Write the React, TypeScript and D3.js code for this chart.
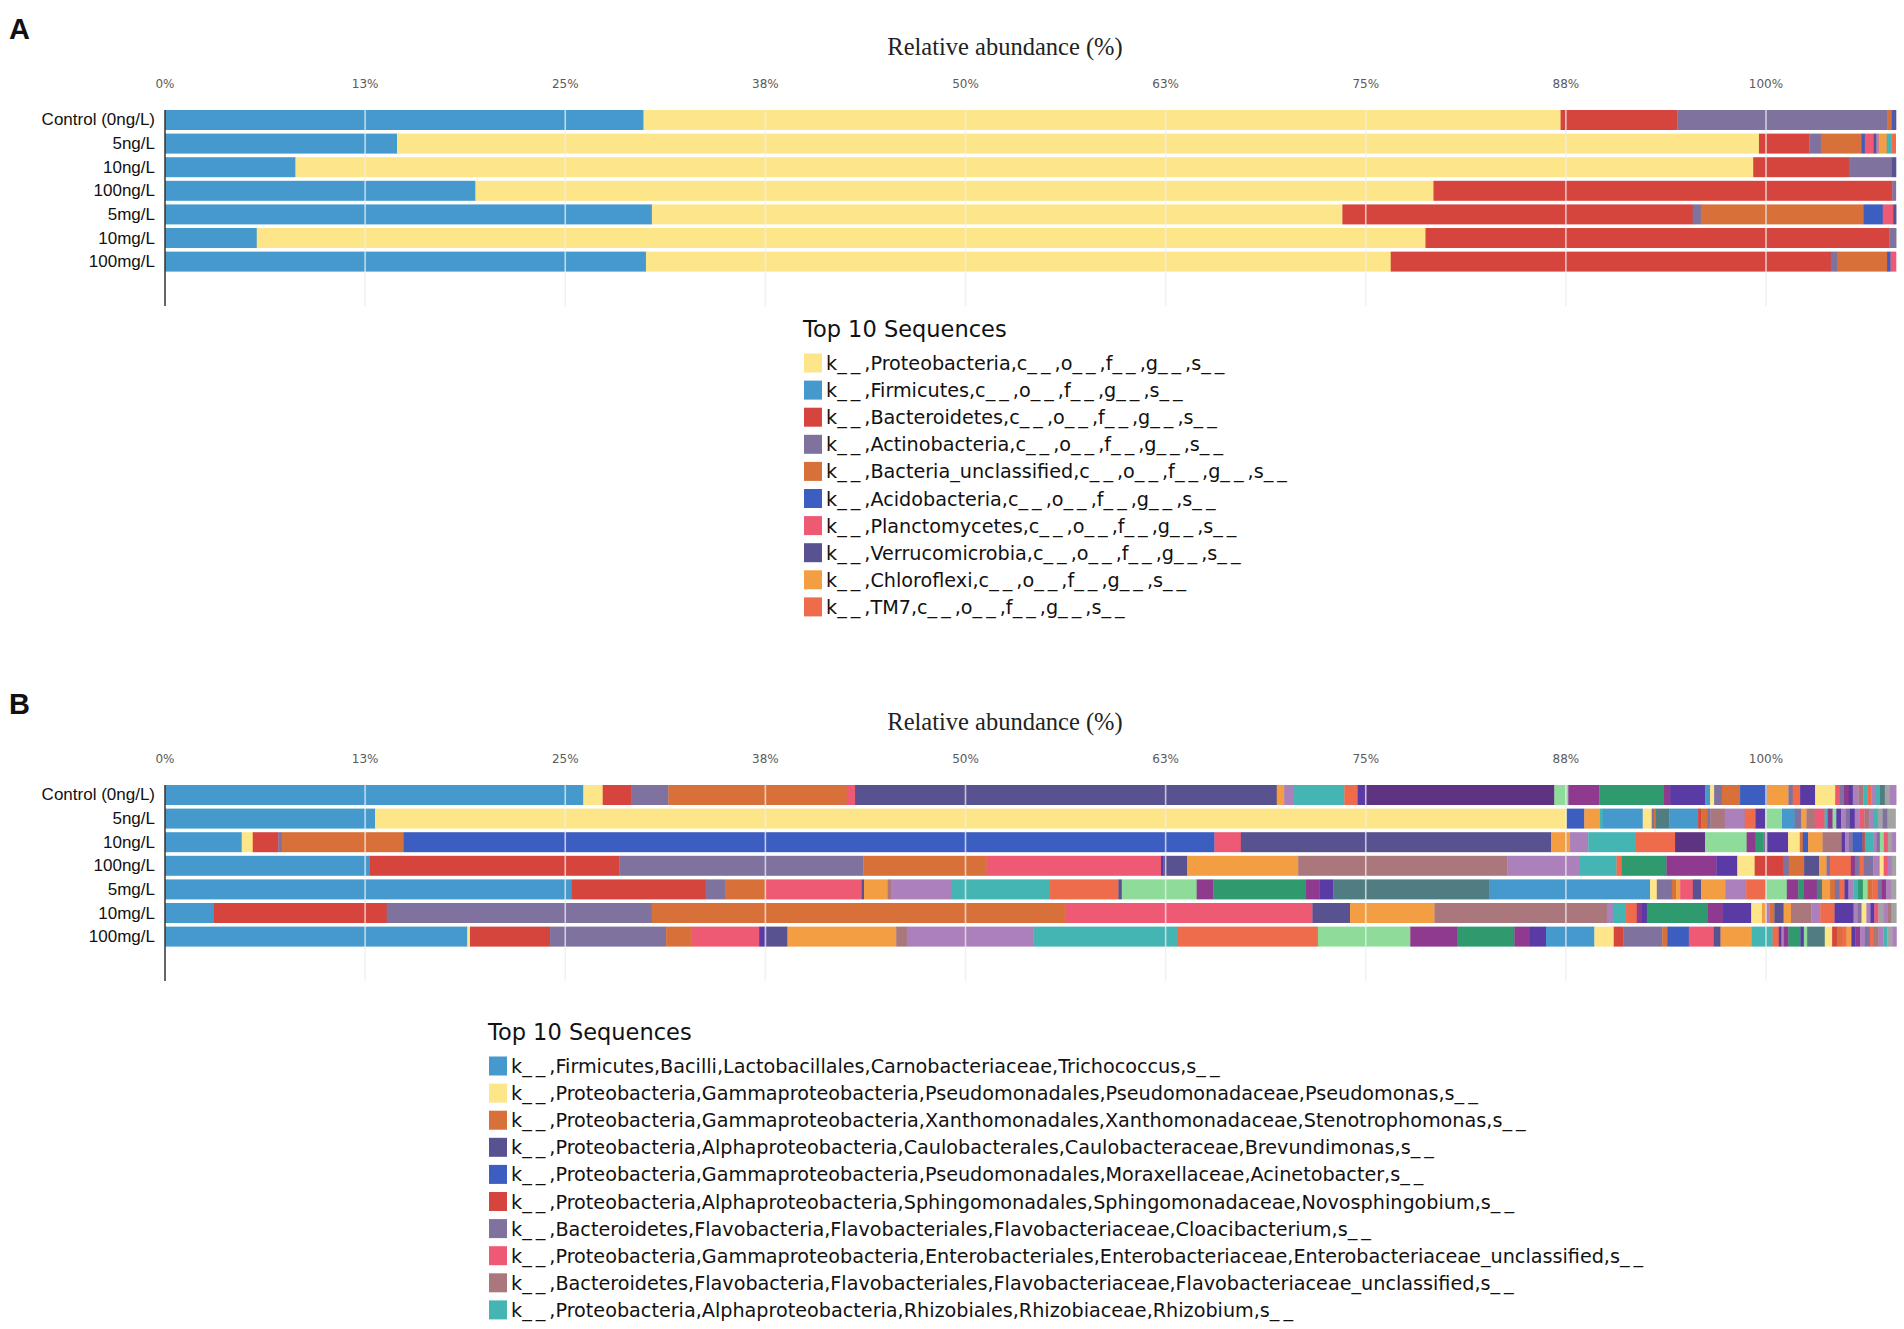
import React from "react";
import * as d3 from "d3";

// ---------- shared data ----------
const samples = ["Control (0ng/L)", "5ng/L", "10ng/L", "100ng/L", "5mg/L", "10mg/L", "100mg/L"];
const tickValues = [0, 12.5, 25, 37.5, 50, 62.5, 75, 87.5, 100];
const axisTitle = "Relative abundance (%)";
const legendTitle = "Top 10 Sequences";

// ---------- panel A (phylum) ----------
const legendKeysA = ["Prot", "Firm", "Bact", "Acti", "Bunc", "Acid", "Plan", "Verr", "Chlo", "TM7"];
const legendLabelsA = [
  "k__,Proteobacteria,c__,o__,f__,g__,s__",
  "k__,Firmicutes,c__,o__,f__,g__,s__",
  "k__,Bacteroidetes,c__,o__,f__,g__,s__",
  "k__,Actinobacteria,c__,o__,f__,g__,s__",
  "k__,Bacteria_unclassified,c__,o__,f__,g__,s__",
  "k__,Acidobacteria,c__,o__,f__,g__,s__",
  "k__,Planctomycetes,c__,o__,f__,g__,s__",
  "k__,Verrucomicrobia,c__,o__,f__,g__,s__",
  "k__,Chloroflexi,c__,o__,f__,g__,s__",
  "k__,TM7,c__,o__,f__,g__,s__",
];
const a_Control: [string, number][] = [["Firm", 29.89], ["Prot", 57.28], ["Bact", 7.29], ["Acti", 13.1], ["Bunc", 0.28], ["Acid", 0.16], ["Verr", 0.12]];
const a_5ng: [string, number][] = [["Firm", 14.49], ["Prot", 85.07], ["Bact", 3.15], ["Acti", 0.72], ["Bunc", 2.52], ["Acid", 0.22], ["Plan", 0.54], ["Verr", 0.19], ["a12", 0.14], ["Chlo", 0.5], ["a11", 0.28], ["TM7", 0.28]];
const a_10ng: [string, number][] = [["Firm", 8.15], ["Prot", 91.05], ["Bact", 5.98], ["Acti", 2.66], ["Verr", 0.28]];
const a_100ng: [string, number][] = [["Firm", 19.39], ["Prot", 59.84], ["Bact", 28.66], ["Acti", 0.22]];
const a_5mg: [string, number][] = [["Firm", 30.41], ["Prot", 43.13], ["Bact", 21.88], ["Acti", 0.51], ["Bunc", 10.15], ["Acid", 1.21], ["Plan", 0.65], ["Verr", 0.19]];
const a_10mg: [string, number][] = [["Firm", 5.73], ["Prot", 73.0], ["Bact", 28.98], ["Acti", 0.42]];
const a_100mg: [string, number][] = [["Firm", 30.04], ["Prot", 46.52], ["Bact", 27.49], ["Acti", 0.42], ["Bunc", 3.09], ["Acid", 0.22], ["Plan", 0.34]];
const rowsA = [a_Control, a_5ng, a_10ng, a_100ng, a_5mg, a_10mg, a_100mg];

// ---------- panel B (genus) ----------
const legendKeysB = ["Tri", "Pse", "Ste", "Bre", "Aci", "Nov", "Clo", "Ent", "Fla", "Rhi"];
const legendLabelsB = [
  "k__,Firmicutes,Bacilli,Lactobacillales,Carnobacteriaceae,Trichococcus,s__",
  "k__,Proteobacteria,Gammaproteobacteria,Pseudomonadales,Pseudomonadaceae,Pseudomonas,s__",
  "k__,Proteobacteria,Gammaproteobacteria,Xanthomonadales,Xanthomonadaceae,Stenotrophomonas,s__",
  "k__,Proteobacteria,Alphaproteobacteria,Caulobacterales,Caulobacteraceae,Brevundimonas,s__",
  "k__,Proteobacteria,Gammaproteobacteria,Pseudomonadales,Moraxellaceae,Acinetobacter,s__",
  "k__,Proteobacteria,Alphaproteobacteria,Sphingomonadales,Sphingomonadaceae,Novosphingobium,s__",
  "k__,Bacteroidetes,Flavobacteria,Flavobacteriales,Flavobacteriaceae,Cloacibacterium,s__",
  "k__,Proteobacteria,Gammaproteobacteria,Enterobacteriales,Enterobacteriaceae,Enterobacteriaceae_unclassified,s__",
  "k__,Bacteroidetes,Flavobacteria,Flavobacteriales,Flavobacteriaceae,Flavobacteriaceae_unclassified,s__",
  "k__,Proteobacteria,Alphaproteobacteria,Rhizobiales,Rhizobiaceae,Rhizobium,s__",
];
const b_Control: [string, number][] = [["Tri", 26.13], ["Pse", 1.21], ["Nov", 1.77], ["Clo", 2.33], ["Ste", 11.14], ["Ent", 0.52], ["Bre", 26.34], ["b11", 0.46], ["b13", 0.62], ["Rhi", 3.14], ["b12", 0.84], ["b17", 0.46], ["b18", 11.82], ["b14", 0.87], ["b15", 1.94], ["b16", 4.0], ["b15", 0.42], ["b17", 2.19], ["Tri", 0.31], ["Pse", 0.25], ["Clo", 0.48], ["Ste", 1.14], ["Aci", 1.67], ["b11", 1.35], ["Clo", 0.27], ["b12", 0.46], ["b17", 0.94], ["Pse", 1.25], ["Ent", 0.3], ["Clo", 0.25], ["b15", 0.3], ["b17", 0.25], ["b13", 0.35], ["Fla", 0.3], ["Rhi", 0.25], ["b12", 0.25], ["b13", 0.3], ["Rhi", 0.25], ["b19", 0.3], ["b20", 0.3], ["b13", 0.41]];
const b_5ng: [string, number][] = [["Tri", 13.12], ["Pse", 74.43], ["Aci", 1.1], ["b11", 0.98], ["Rhi", 0.17], ["Tri", 2.5], ["Pse", 0.56], ["Clo", 0.14], ["Ste", 0.12], ["b19", 0.83], ["Tri", 1.81], ["Nov", 0.21], ["Ste", 0.35], ["Clo", 0.21], ["Fla", 0.89], ["b13", 1.25], ["b12", 0.67], ["b17", 0.62], ["b14", 1.04], ["Tri", 0.79], ["Clo", 0.42], ["b11", 0.31], ["Fla", 0.52], ["Ent", 0.62], ["Rhi", 0.19], ["b15", 0.31], ["b14", 0.23], ["b17", 0.3], ["b13", 0.3], ["Clo", 0.25], ["b17", 0.3], ["b13", 0.3], ["Ent", 0.3], ["Fla", 0.3], ["b13", 0.3], ["Rhi", 0.25], ["b20", 0.3], ["Clo", 0.3], ["b20", 0.5]];
const b_10ng: [string, number][] = [["Tri", 4.79], ["Pse", 0.69], ["Nov", 1.6], ["Clo", 0.21], ["Ste", 7.6], ["Aci", 50.66], ["Ent", 1.65], ["Bre", 19.38], ["b11", 1.18], ["b13", 1.14], ["Rhi", 2.98], ["b12", 2.44], ["b18", 1.87], ["b14", 2.6], ["b15", 0.56], ["b16", 0.47], ["Clo", 0.27], ["b17", 1.29], ["Pse", 0.73], ["Ste", 0.19], ["Aci", 0.33], ["b11", 0.9], ["Fla", 1.19], ["b17", 0.21], ["b13", 0.25], ["Clo", 0.23], ["Aci", 0.62], ["Nov", 0.14], ["Rhi", 0.52], ["b13", 0.23], ["Clo", 0.19], ["b14", 0.25], ["Ent", 0.25], ["b20", 0.25], ["b13", 0.25]];
const b_100ng: [string, number][] = [["Tri", 12.8], ["Nov", 15.57], ["Clo", 15.24], ["Ste", 7.71], ["Ent", 10.89], ["b17", 0.14], ["Bre", 1.5], ["b11", 6.93], ["Fla", 13.05], ["b13", 4.54], ["Rhi", 2.29], ["b12", 0.31], ["b16", 2.81], ["b15", 3.12], ["b17", 1.31], ["Pse", 1.08], ["Nov", 1.77], ["Clo", 0.36], ["Ste", 0.96], ["Bre", 0.94], ["b11", 0.46], ["Clo", 0.21], ["b12", 1.31], ["b15", 0.25], ["Clo", 0.3], ["b12", 0.25], ["Clo", 0.6], ["b13", 0.4], ["Pse", 0.25], ["Ent", 0.25], ["b13", 0.25], ["b20", 0.26]];
const b_5mg: [string, number][] = [["Tri", 25.4], ["Nov", 8.37], ["Clo", 1.21], ["Ste", 2.5], ["Ent", 6.04], ["Bre", 0.14], ["b11", 1.48], ["Fla", 0.21], ["b13", 3.79], ["Rhi", 6.14], ["b12", 4.27], ["Bre", 0.21], ["b14", 4.68], ["b15", 1.04], ["b16", 5.79], ["b15", 0.83], ["b17", 0.87], ["b19", 9.73], ["Tri", 10.06], ["Pse", 0.42], ["Clo", 0.94], ["Ste", 0.27], ["b11", 0.25], ["Ent", 0.79], ["Bre", 0.52], ["b11", 1.5], ["b13", 1.31], ["b12", 1.23], ["b14", 1.31], ["b15", 0.72], ["b16", 0.31], ["b15", 0.84], ["b19", 0.33], ["b11", 0.5], ["Ste", 0.3], ["Clo", 0.3], ["b12", 0.3], ["b17", 0.25], ["b13", 0.3], ["Rhi", 0.3], ["b16", 0.3], ["b14", 0.3], ["Ste", 0.3], ["b12", 0.3], ["Clo", 0.25], ["b15", 0.3], ["b13", 0.3], ["b20", 0.32]];
const b_10mg: [string, number][] = [["Tri", 3.06], ["Nov", 10.79], ["Clo", 16.55], ["Ste", 25.82], ["Ent", 15.45], ["Bre", 2.35], ["b11", 5.27], ["Fla", 10.77], ["b13", 0.37], ["Rhi", 0.83], ["b12", 0.67], ["b15", 0.27], ["b17", 0.36], ["b16", 3.79], ["b15", 0.94], ["b17", 1.79], ["Pse", 0.67], ["b11", 0.21], ["b13", 0.25], ["Ste", 0.31], ["Bre", 0.58], ["b11", 0.46], ["Fla", 1.27], ["b13", 0.56], ["b12", 0.89], ["b17", 1.19], ["b13", 0.25], ["Clo", 0.25], ["Pse", 0.3], ["b13", 0.25], ["b17", 0.25], ["Ent", 0.25], ["b20", 0.3], ["b13", 0.25], ["Fla", 0.27], ["b20", 0.3]];
const b_100mg: [string, number][] = [["Tri", 18.88], ["Pse", 0.17], ["Nov", 5.0], ["Clo", 7.25], ["Ste", 1.56], ["Ent", 4.25], ["b17", 0.44], ["Bre", 1.33], ["b11", 6.79], ["Fla", 0.67], ["b13", 7.91], ["Rhi", 9.02], ["b12", 8.74], ["b14", 5.77], ["b15", 2.92], ["b16", 3.58], ["b15", 0.97], ["b17", 1.01], ["Tri", 3.02], ["Pse", 1.21], ["Nov", 0.59], ["Clo", 2.44], ["Ste", 0.31], ["Aci", 1.35], ["Ent", 1.56], ["Bre", 0.42], ["b11", 1.94], ["Rhi", 1.31], ["b12", 0.39], ["b17", 0.17], ["b13", 0.14], ["b15", 0.29], ["b16", 0.75], ["b17", 0.21], ["b14", 0.21], ["b19", 1.1], ["Pse", 0.46], ["Nov", 0.3], ["Ste", 0.3], ["b12", 0.3], ["b11", 0.3], ["b17", 0.25], ["b15", 0.3], ["b13", 0.3], ["Clo", 0.3], ["b12", 0.25], ["Fla", 0.3], ["b13", 0.3], ["Rhi", 0.25], ["b20", 0.3], ["b13", 0.27]];
const rowsB = [b_Control, b_5ng, b_10ng, b_100ng, b_5mg, b_10mg, b_100mg];

// ---------- colours ----------
const C = {
  yellow: "#FDE58A", blue: "#4599CD", red: "#D6453D", purple: "#7F729F", orange: "#D87139",
  blue2: "#3C5EC1", pink: "#EE5974", darkPurple: "#585290", lightOrange: "#F49E44", coral: "#EE6B4B",
  mauve: "#AA787C", teal: "#44B5B3", lightPurple: "#AC80BB", lightGreen: "#8EDB9A", magenta: "#8F3A8F",
  darkGreen: "#2F9A6E", indigo: "#5A3AA4", deepPurple: "#5D3382", darkTeal: "#4F7D81", gray: "#A3A3A3",
};
const colorsA: Record<string, string> = {
  Prot: C.yellow, Firm: C.blue, Bact: C.red, Acti: C.purple, Bunc: C.orange, Acid: C.blue2,
  Plan: C.pink, Verr: C.darkPurple, Chlo: C.lightOrange, TM7: C.coral, a11: C.teal, a12: C.lightPurple,
};
const colorsB: Record<string, string> = {
  Tri: C.blue, Pse: C.yellow, Ste: C.orange, Bre: C.darkPurple, Aci: C.blue2, Nov: C.red, Clo: C.purple,
  Ent: C.pink, Fla: C.mauve, Rhi: C.teal, b11: C.lightOrange, b12: C.coral, b13: C.lightPurple,
  b14: C.lightGreen, b15: C.magenta, b16: C.darkGreen, b17: C.indigo, b18: C.deepPurple, b19: C.darkTeal, b20: C.gray,
};

const W = 1904;
const H = 1329;
const x = d3.scaleLinear().domain([0, 100]).range([165, 1766]);
const LEGEND_FONT = "DejaVu Sans, Verdana, sans-serif";

function LegendLabel({ text }: { text: string }) {
  const parts = text.split(/(__)/).filter((p) => p.length > 0);
  return (
    <>
      {parts.map((p, i) =>
        p === "__" ? (
          <tspan key={i} letterSpacing={4}>
            {p}
          </tspan>
        ) : (
          <tspan key={i}>{p}</tspan>
        )
      )}
    </>
  );
}

type PanelProps = {
  letter: string;
  top: number;
  rows: [string, number][][];
  colors: Record<string, string>;
  legendKeys: string[];
  legendLabels: string[];
  legendX: number;
  legendY: number;
};

function Panel({ letter, top, rows, colors, legendKeys, legendLabels, legendX, legendY }: PanelProps) {
  const y = d3.scaleBand<string>().domain(samples).range([top + 110, top + 271.6]).paddingInner(0.153).paddingOuter(0);
  const gridTop = top + 110;
  const gridBottom = top + 306;
  return (
    <g>
      <text x={9} y={top + 39} fontFamily="Liberation Sans, Arial, sans-serif" fontWeight="bold" fontSize={29} fill="#111">
        {letter}
      </text>
      <text x={1005} y={top + 55} textAnchor="middle" fontFamily="Liberation Serif, Times New Roman, serif" fontSize={24.5} fill="#222">
        {axisTitle}
      </text>
      {tickValues.map((t) => (
        <text key={t} x={x(t)} y={top + 88} textAnchor="middle" fontFamily="DejaVu Sans, Verdana, sans-serif" fontSize={12} fill="#5a5a5a">
          {Math.round(t) + "%"}
        </text>
      ))}
      {rows.map((segs, i) => {
        const ends = Array.from(d3.cumsum(segs.map((s) => s[1])));
        return (
          <g key={i}>
            {segs.map((s, j) => {
              const x0 = x(ends[j] - s[1]);
              const x1 = x(ends[j]);
              return <rect key={j} x={x0} y={y(samples[i])!} width={Math.max(0, x1 - x0) + 0.3} height={y.bandwidth()} fill={colors[s[0]]} />;
            })}
          </g>
        );
      })}
      {tickValues.slice(1).map((t) => (
        <line key={t} x1={x(t)} x2={x(t)} y1={gridTop} y2={gridBottom} stroke="#eeeeee" strokeOpacity={0.75} strokeWidth={1.6} />
      ))}
      <line x1={x(0)} x2={x(0)} y1={gridTop} y2={gridBottom} stroke="#333" strokeWidth={1.5} />
      {samples.map((s) => (
        <text key={s} x={155} y={y(s)! + y.bandwidth() / 2 + 5.5} textAnchor="end" fontFamily="Liberation Sans, Arial, sans-serif" fontSize={17} fill="#111">
          {s}
        </text>
      ))}
      <text x={legendX} y={legendY} fontFamily={LEGEND_FONT} fontSize={22.5} fill="#111">
        {legendTitle}
      </text>
      {legendKeys.map((k, i) => {
        const cy = legendY + 26 + i * 27.1;
        return (
          <g key={k}>
            <rect x={legendX + 1} y={cy - 9.5} width={18} height={19} fill={colors[k]} />
            <text x={legendX + 23} y={cy + 7} fontFamily={LEGEND_FONT} fontSize={19.2} fill="#111">
              <LegendLabel text={legendLabels[i]} />
            </text>
          </g>
        );
      })}
    </g>
  );
}

export default function App() {
  return (
    <svg width={W} height={H} style={{ position: "absolute", left: 0, top: 0, background: "#fff" }}>
      <rect x={0} y={0} width={W} height={H} fill="#fff" />
      <Panel letter="A" top={0} rows={rowsA} colors={colorsA} legendKeys={legendKeysA} legendLabels={legendLabelsA} legendX={803} legendY={337} />
      <Panel letter="B" top={675} rows={rowsB} colors={colorsB} legendKeys={legendKeysB} legendLabels={legendLabelsB} legendX={488} legendY={1040} />
    </svg>
  );
}
